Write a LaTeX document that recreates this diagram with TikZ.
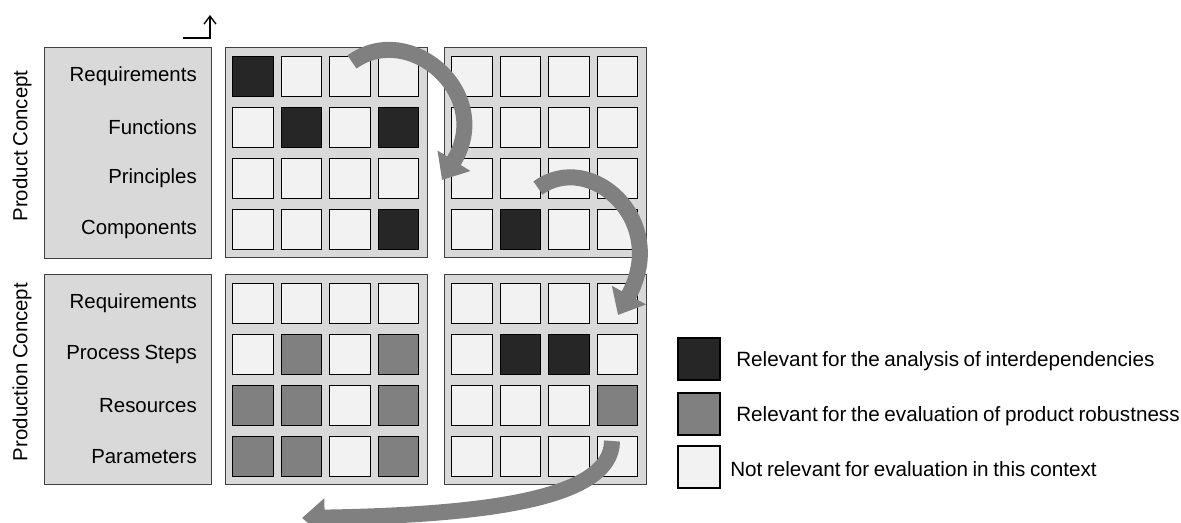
\documentclass[tikz,border=0pt]{standalone}
\usepackage{fontspec}
\setmainfont[WordSpace=0.8]{Liberation Sans}
\usetikzlibrary{arrows.meta}

\definecolor{boxgray}{HTML}{D9D9D9}
\definecolor{cellD}{HTML}{262626}
\definecolor{cellM}{HTML}{808080}
\definecolor{cellL}{HTML}{F2F2F2}
\definecolor{flowgray}{HTML}{808080}

\tikzset{
  panel/.style={draw=black!75, fill=boxgray, line width=0.8pt, anchor=north west, inner sep=0pt},
  cell/.style={draw=black, line width=1pt, minimum width=30.4pt, minimum height=30pt, inner sep=0pt, anchor=north west},
  rowlabel/.style={anchor=east, inner sep=0pt, font=\fontsize{15.3}{18}\selectfont},
  grouplabel/.style={rotate=90, inner sep=0pt, font=\fontsize{15.3}{18}\selectfont},
  legtext/.style={anchor=west, inner sep=0pt, font=\fontsize{15.5}{18}\selectfont},
  flow/.style={flowgray, line width=12pt, -{Triangle[width=28pt,length=17pt]}},
}

\begin{document}
\begin{tikzpicture}[x=0.75pt, y=-0.75pt]
    \useasboundingbox (0,0) rectangle (1181,523);
    \def\cw{48.5}
    \def\rh{51}

    % Label panels
    \node[panel, minimum width=125.25pt, minimum height=158.25pt] (pcbox) at (44,47) {};
    \node[panel, minimum width=125.25pt, minimum height=157.5pt] (prbox) at (44,274) {};

    % Matrix panels
    \foreach \m/\x/\y in {m1/225/47, m2/444/47, m3/225/274, m4/444/274}
        \node[panel, minimum width=151.5pt, minimum height=157.5pt] (\m) at (\x,\y) {};

    % Cells: D = interdependencies, M = robustness, L = not relevant
    \foreach \r/\ca/\cb/\cc/\cd in {0/D/L/L/L, 1/L/D/L/D, 2/L/L/L/L, 3/L/L/L/D}
        \foreach \c/\t in {0/\ca, 1/\cb, 2/\cc, 3/\cd}
            \node[cell, fill=cell\t] (m1-\r-\c) at (232+\cw*\c, 56+\rh*\r) {};
    \foreach \r/\ca/\cb/\cc/\cd in {0/L/L/L/L, 1/L/L/L/L, 2/L/L/L/L, 3/L/D/L/L}
        \foreach \c/\t in {0/\ca, 1/\cb, 2/\cc, 3/\cd}
            \node[cell, fill=cell\t] (m2-\r-\c) at (451+\cw*\c, 56+\rh*\r) {};
    \foreach \r/\ca/\cb/\cc/\cd in {0/L/L/L/L, 1/L/M/L/M, 2/M/M/L/M, 3/M/M/L/M}
        \foreach \c/\t in {0/\ca, 1/\cb, 2/\cc, 3/\cd}
            \node[cell, fill=cell\t] (m3-\r-\c) at (232+\cw*\c, 283+\rh*\r) {};
    \foreach \r/\ca/\cb/\cc/\cd in {0/L/L/L/L, 1/L/D/D/L, 2/L/L/L/M, 3/L/L/L/L}
        \foreach \c/\t in {0/\ca, 1/\cb, 2/\cc, 3/\cd}
            \node[cell, fill=cell\t] (m4-\r-\c) at (451+\cw*\c, 283+\rh*\r) {};

    % Row labels
    \foreach \i/\lab in {0/Requirements, 1/Functions, 2/Principles, 3/Components}
        \node[rowlabel] (pl-\i) at (197, 76.5+\rh*\i) {\lab};
    \foreach \i/\lab in {0/Requirements, 1/Process Steps, 2/Resources, 3/Parameters}
        \node[rowlabel] (ql-\i) at (197, 303.5+\rh*\i) {\lab};

    % Group labels
    \node[grouplabel] (pcon) at (22,146) {Product Concept};
    \node[grouplabel] (qcon) at (22,372) {Production Concept};

    % Corner arrow
    \coordinate (ax-a) at (183,38);
    \coordinate (ax-b) at (210,15);
    \draw[-{Straight Barb[length=6pt,width=9pt]}, line width=1pt] (ax-a) -| (ax-b);

    % Legend
    \foreach \i/\t/\y/\tx/\lab in {
        1/D/359/736/Relevant for the analysis of interdependencies,
        2/M/414/736/Relevant for the evaluation of product robustness,
        3/L/467/730/Not relevant for evaluation in this context} {
        \node[cell, anchor=center, minimum width=31.5pt, minimum height=31.5pt, fill=cell\t] (leg-\i) at (699,\y) {};
        \node[legtext] (legt-\i) at (\tx,\y+2) {\lab};
    }

    % Flow arrows
    \coordinate (f1-s) at (352,62);
    \coordinate (f1-e) at (442,180);
    \coordinate (f2-s) at (538,188);
    \coordinate (f2-e) at (618,315);
    \coordinate (f3-s) at (612,441);
    \coordinate (f3-e) at (302,518);
    \draw[flow] (f1-s) .. controls (410,20) and (495,95) .. (f1-e);
    \draw[flow] (f2-s) .. controls (590,150) and (670,220) .. (f2-e);
    \draw[flow] (f3-s) .. controls (612,500) and (480,515) .. (f3-e);
\end{tikzpicture}
\end{document}
